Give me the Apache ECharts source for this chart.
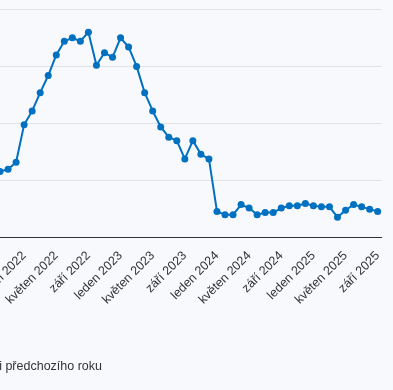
<!DOCTYPE html>
<html>
<head>
<meta charset="utf-8">
<script src="https://cdn.jsdelivr.net/npm/echarts@6/dist/echarts.min.js"></script>
<style>
html,body{margin:0;padding:0;background:#f7f9fc;}
#c{width:393px;height:390px;}
</style>
</head>
<body>
<div id="c"></div>
<script>
const categories = [
  'říjen 2021','listopad 2021','prosinec 2021',
  'leden 2022','únor 2022','březen 2022','duben 2022','květen 2022','červen 2022','červenec 2022','srpen 2022','září 2022','říjen 2022','listopad 2022','prosinec 2022',
  'leden 2023','únor 2023','březen 2023','duben 2023','květen 2023','červen 2023','červenec 2023','srpen 2023','září 2023','říjen 2023','listopad 2023','prosinec 2023',
  'leden 2024','únor 2024','březen 2024','duben 2024','květen 2024','červen 2024','červenec 2024','srpen 2024','září 2024','říjen 2024','listopad 2024','prosinec 2024',
  'leden 2025','únor 2025','březen 2025','duben 2025','květen 2025','červen 2025','červenec 2025','srpen 2025','září 2025'
];
const inflation = [
  5.8, 6.0, 6.6,
  9.9, 11.1, 12.7, 14.2, 16.0, 17.2, 17.5, 17.2, 18.0, 15.1, 16.2, 15.8,
  17.5, 16.7, 15.0, 12.7, 11.1, 9.7, 8.8, 8.5, 6.9, 8.5, 7.3, 6.9,
  2.3, 2.0, 2.0, 2.9, 2.6, 2.0, 2.2, 2.2, 2.6, 2.8, 2.8, 3.0,
  2.8, 2.7, 2.7, 1.8, 2.4, 2.9, 2.7, 2.5, 2.3
];
const yTicks = [0, 5, 10, 15, 20];
const seriesName = 'Meziroční změna oproti stejnému měsíci předchozího roku';
const FONT = 'Liberation Sans';

const chart = echarts.init(document.getElementById('c'));
chart.setOption({
  backgroundColor: '#f7f9fc',
  animation: false,
  textStyle: { fontFamily: FONT },
  grid: { left: -4, right: 11.3, top: 9.3, bottom: 152.3, containLabel: false, outerBoundsMode: 'none' },
  xAxis: {
    type: 'category',
    data: categories,
    boundaryGap: true,
    axisLine: { show: true, lineStyle: { color: '#333', width: 1 } },
    axisTick: { show: false },
    axisLabel: {
      rotate: 45,
      fontSize: 12.5,
      color: '#333',
      fontFamily: FONT,
      margin: 16,
      hideOverlap: false,
      interval: function (idx) { return idx >= 3 && (idx - 3) % 4 === 0; }
    }
  },
  yAxis: {
    type: 'value',
    min: yTicks[0],
    max: yTicks[yTicks.length - 1],
    interval: 5,
    axisLine: { show: false },
    axisTick: { show: false },
    axisLabel: { show: false },
    splitLine: { lineStyle: { color: '#e0e2e6', width: 1 } }
  },
  series: [{
    name: seriesName,
    type: 'line',
    data: inflation,
    symbol: 'circle',
    symbolSize: 7,
    showAllSymbol: true,
    itemStyle: { color: '#0070c0' },
    lineStyle: { color: '#0070c0', width: 2 }
  }],
  graphic: [{
    type: 'text',
    right: 291,
    top: 360,
    style: {
      text: seriesName,
      fontSize: 12.5,
      fontFamily: FONT,
      fill: '#333'
    }
  }]
});
</script>
</body>
</html>
